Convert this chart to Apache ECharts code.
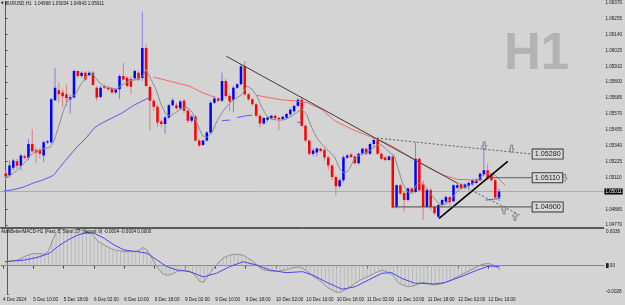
<!DOCTYPE html>
<html><head><meta charset="utf-8">
<script src="https://cdn.jsdelivr.net/npm/echarts@6/dist/echarts.min.js"></script>
<style>html,body{margin:0;padding:0;background:#d4d4d4}#c{width:625px;height:305px}</style>
</head><body><div id="c"></div><script>
// ---------- DATA ----------
const sessionDays = [['5 Dec',2,23],['6 Dec',0,23],['9 Dec',0,23],['10 Dec',0,23],['11 Dec',0,23],['12 Dec',0,23],['13 Dec',0,16]];
const timeTicks = ['5 Dec 10:00','5 Dec 18:00','6 Dec 02:00','6 Dec 10:00','6 Dec 18:00','9 Dec 02:00','9 Dec 10:00','9 Dec 18:00','10 Dec 02:00','10 Dec 10:00','10 Dec 18:00','11 Dec 02:00','11 Dec 10:00','11 Dec 18:00','12 Dec 02:00','12 Dec 10:00'];
const firstDateLabel = '4 Dec 2024';
const priceTicks = [1.04770,1.04880,1.05110,1.05225,1.05340,1.05455,1.05570,1.05685,1.05800,1.05910,1.06025,1.06140,1.06255,1.06370];
const macdTicks = [-0.0028, 0, 0.0036];
const macdTickLabels = ['-0.0028', '0.00', '0.0036'];

const opens = [1.05143,1.05127,1.05182,1.05229,1.05196,1.05265,1.05253,1.05353,1.05310,1.05305,1.05270,1.05363,1.05365,1.05668,1.05739,1.05722,1.05710,1.05672,1.05686,1.05877,1.05841,1.05865,1.05848,1.05865,1.05757,1.05691,1.05770,1.05757,1.05753,1.05722,1.05746,1.05841,1.05829,1.05820,1.05825,1.05865,1.05827,1.06043,1.05762,1.05663,1.05620,1.05515,1.05496,1.05543,1.05632,1.05632,1.05610,1.05663,1.05591,1.05520,1.05550,1.05377,1.05345,1.05377,1.05436,1.05650,1.05680,1.05663,1.05805,1.05698,1.05670,1.05757,1.05782,1.05912,1.05710,1.05675,1.05639,1.05555,1.05500,1.05527,1.05538,1.05555,1.05541,1.05530,1.05541,1.05566,1.05588,1.05627,1.05670,1.05484,1.05377,1.05281,1.05291,1.05318,1.05309,1.05256,1.05198,1.05115,1.05049,1.05091,1.05253,1.05277,1.05263,1.05215,1.05281,1.05318,1.05282,1.05352,1.05380,1.05282,1.05256,1.05238,1.05263,1.04901,1.05056,1.05001,1.04949,1.05032,1.05008,1.05246,1.05063,1.04901,1.05020,1.04899,1.04829,1.04913,1.04938,1.04970,1.04941,1.05038,1.05063,1.05036,1.05049,1.05063,1.05072,1.05091,1.05134,1.05163,1.05127,1.05091,1.04968];
const highs = [1.05163,1.05234,1.05246,1.05246,1.05282,1.05277,1.05389,1.05460,1.05325,1.05318,1.05377,1.05382,1.05682,1.05900,1.05793,1.05746,1.05782,1.05710,1.05889,1.05884,1.05877,1.05877,1.05877,1.05877,1.05770,1.05770,1.05782,1.05770,1.05762,1.05757,1.05853,1.05936,1.05841,1.05841,1.05889,1.05877,1.06305,1.06067,1.05777,1.05677,1.05634,1.05527,1.05555,1.05641,1.05684,1.05648,1.05670,1.05677,1.05605,1.05563,1.05563,1.05391,1.05384,1.05448,1.05663,1.05698,1.05691,1.05865,1.05820,1.05712,1.05770,1.05791,1.05927,1.05948,1.05720,1.05684,1.05648,1.05566,1.05548,1.05552,1.05563,1.05563,1.05548,1.05555,1.05577,1.05613,1.05630,1.05684,1.05684,1.05491,1.05384,1.05323,1.05327,1.05327,1.05323,1.05266,1.05206,1.05127,1.05106,1.05270,1.05281,1.05288,1.05273,1.05291,1.05327,1.05327,1.05363,1.05395,1.05391,1.05291,1.05266,1.05273,1.05273,1.05063,1.05066,1.05013,1.05041,1.05041,1.05365,1.05256,1.05091,1.05034,1.05034,1.04909,1.04920,1.04959,1.04984,1.04981,1.05063,1.05066,1.05074,1.05070,1.05084,1.05102,1.05106,1.05148,1.05356,1.05211,1.05141,1.05102,1.05034];
const lows = [1.05096,1.05111,1.05163,1.05175,1.05163,1.05241,1.05234,1.05293,1.05215,1.05246,1.05222,1.05353,1.05353,1.05663,1.05650,1.05615,1.05627,1.05572,1.05682,1.05829,1.05829,1.05805,1.05841,1.05770,1.05663,1.05682,1.05746,1.05734,1.05710,1.05710,1.05675,1.05810,1.05757,1.05710,1.05810,1.05805,1.05805,1.05762,1.05448,1.05591,1.05477,1.05472,1.05425,1.05534,1.05620,1.05598,1.05598,1.05577,1.05505,1.05505,1.05370,1.05329,1.05338,1.05370,1.05427,1.05639,1.05652,1.05655,1.05684,1.05591,1.05579,1.05748,1.05773,1.05698,1.05663,1.05627,1.05545,1.05472,1.05491,1.05513,1.05527,1.05527,1.05453,1.05520,1.05530,1.05555,1.05577,1.05616,1.05477,1.05366,1.05270,1.05266,1.05263,1.05291,1.05234,1.05163,1.05091,1.04984,1.05034,1.05077,1.05245,1.05248,1.05206,1.05206,1.05270,1.05270,1.05273,1.05327,1.05273,1.05238,1.05227,1.05231,1.04891,1.04888,1.04984,1.04865,1.04938,1.04999,1.04999,1.05009,1.04806,1.04891,1.04877,1.04841,1.04816,1.04902,1.04920,1.04913,1.04934,1.05027,1.05023,1.05027,1.05038,1.05052,1.05063,1.05084,1.05123,1.05095,1.05084,1.04961,1.04943];
const closes = [1.05120,1.05198,1.05234,1.05196,1.05270,1.05253,1.05353,1.05300,1.05291,1.05282,1.05365,1.05372,1.05675,1.05757,1.05710,1.05696,1.05682,1.05691,1.05877,1.05841,1.05865,1.05817,1.05865,1.05777,1.05686,1.05757,1.05757,1.05746,1.05722,1.05746,1.05841,1.05817,1.05770,1.05765,1.05877,1.05817,1.06043,1.05770,1.05663,1.05620,1.05508,1.05496,1.05543,1.05632,1.05668,1.05610,1.05658,1.05591,1.05520,1.05550,1.05377,1.05341,1.05377,1.05436,1.05650,1.05680,1.05663,1.05805,1.05698,1.05659,1.05757,1.05782,1.05912,1.05710,1.05675,1.05639,1.05555,1.05500,1.05539,1.05543,1.05555,1.05538,1.05530,1.05548,1.05568,1.05598,1.05627,1.05670,1.05484,1.05377,1.05282,1.05305,1.05320,1.05302,1.05256,1.05198,1.05115,1.05049,1.05091,1.05258,1.05270,1.05259,1.05215,1.05282,1.05318,1.05282,1.05353,1.05382,1.05282,1.05246,1.05238,1.05263,1.04896,1.05056,1.04996,1.04949,1.05032,1.05008,1.05246,1.05020,1.04901,1.05020,1.04899,1.04854,1.04913,1.04949,1.04972,1.04934,1.05056,1.05056,1.05032,1.05061,1.05072,1.05091,1.05095,1.05139,1.05163,1.05103,1.05091,1.04968,1.05011];
const bidPrice = 1.05011;

// moving averages: [bar position, price]
const grayMA = [[-0.5,1.05115],[1.25,1.05127],[3.0,1.05163],[4.7,1.05211],[6.5,1.05270],[8.2,1.05306],[10.0,1.05318],[11.7,1.05329],[12.6,1.05365],[13.9,1.05472],[15.2,1.05591],[16.5,1.05675],[17.4,1.05686],[18.3,1.05710],[19.6,1.05770],[21.3,1.05841],[23.0,1.05853],[24.3,1.05805],[25.7,1.05770],[27.4,1.05757],[29.1,1.05746],[30.9,1.05782],[32.6,1.05805],[34.4,1.05817],[36.1,1.05841],[37.0,1.05889],[38.3,1.05817],[39.6,1.05746],[40.9,1.05639],[42.2,1.05567],[43.5,1.05555],[44.8,1.05579],[46.6,1.05610],[47.9,1.05615],[49.2,1.05579],[50.5,1.05496],[51.8,1.05413],[53.1,1.05400],[54.4,1.05436],[55.7,1.05520],[57.0,1.05579],[58.4,1.05627],[59.7,1.05663],[61.0,1.05686],[62.3,1.05710],[63.6,1.05770],[64.9,1.05746],[66.2,1.05698],[67.5,1.05615],[68.8,1.05555],[70.1,1.05532],[71.4,1.05525],[72.7,1.05525],[74.0,1.05532],[75.4,1.05555],[76.7,1.05579],[78.0,1.05603],[79.3,1.05567],[80.6,1.05472],[81.9,1.05400],[83.2,1.05353],[85.0,1.05306],[86.7,1.05258],[88.0,1.05175],[89.3,1.05139],[90.6,1.05175],[91.9,1.05246],[93.7,1.05282],[95.4,1.05293],[97.1,1.05329],[98.5,1.05353],[99.8,1.05329],[101.1,1.05293],[102.4,1.05270],[103.3,1.05186],[104.6,1.05068],[105.9,1.05008],[107.2,1.04996],[108.1,1.05056],[109.4,1.05079],[110.7,1.05043],[112.0,1.04996],[113.3,1.04949],[114.6,1.04913],[115.9,1.04920],[117.2,1.04949],[118.5,1.04996],[119.8,1.05032],[121.1,1.05043],[122.4,1.05056],[123.7,1.05079],[125.1,1.05115],[126.4,1.05139],[127.7,1.05139],[129.0,1.05127],[130.3,1.05091],[131.6,1.05056]];
const redMA_a = [[38.9,1.05834],[41.4,1.05817],[44.8,1.05793],[48.3,1.05770],[51.8,1.05722],[55.3,1.05686]];
const redMA_b = [[66.2,1.05703],[69.3,1.05686],[72.7,1.05670],[76.2,1.05663],[79.7,1.05648],[83.2,1.05602],[86.7,1.05520],[91.1,1.05460],[95.4,1.05413],[98.9,1.05377],[102.4,1.05329],[106.7,1.05258],[111.1,1.05186],[115.5,1.05127],[119.0,1.05098],[121.6,1.05096],[124.2,1.05091],[125.6,1.05096]];
const blueMA_a = [[-0.5,1.05013],[2.1,1.05025],[4.7,1.05043],[7.3,1.05072],[10.0,1.05096],[12.6,1.05127],[14.3,1.05186],[16.5,1.05258],[18.7,1.05329],[21.3,1.05400],[23.5,1.05472],[25.7,1.05508],[28.3,1.05543],[30.9,1.05579],[33.5,1.05627],[36.1,1.05663],[37.9,1.05686]];
const blueMA_b = [[57.0,1.05520],[59.2,1.05525]];
const blueMA_c = [[61.0,1.05543],[62.8,1.05553],[64.9,1.05560]];
const blueMA_d = [[76.9,1.05508],[78.0,1.05510]];
const blueMA_e = [[126.4,1.04949],[130.3,1.04961]];

// drawn objects
const downTrend = [[58.1,1.05984],[118.96,1.05072]];
const downTrendRay = [[118.96,1.05072],[135.5,1.04841]];
const upTrend = [[114.2,1.04818],[132.3,1.05227]];
const level1 = [[96.8,1.05398],[138.6,1.05280]];
const level2 = [[127.1,1.05110],[138.6,1.05110]];
const level3 = [[102.3,1.04900],[138.6,1.04900]];
const downArrows = [[126.1,1.05341],[133.3,1.05318],[147.3,1.05109]];
const upArrows = [[131.3,1.04877],[134.2,1.04832]];

// MACD
const macdMain = [0.00040,0.00045,0.00050,0.00055,0.00075,0.00095,0.00107,0.00118,0.00119,0.00116,0.00114,0.00144,0.00242,0.00326,0.00355,0.00361,0.00367,0.00364,0.00361,0.00354,0.00344,0.00333,0.00323,0.00287,0.00240,0.00218,0.00196,0.00177,0.00159,0.00149,0.00143,0.00137,0.00137,0.00137,0.00137,0.00154,0.00178,0.00151,0.00099,0.00023,-0.00031,-0.00077,-0.00093,-0.00093,-0.00076,-0.00058,-0.00051,-0.00043,-0.00059,-0.00073,-0.00112,-0.00160,-0.00162,-0.00105,-0.00056,-0.00007,0.00035,0.00074,0.00090,0.00104,0.00113,0.00109,0.00105,0.00088,0.00065,0.00040,0.00006,-0.00028,-0.00046,-0.00050,-0.00055,-0.00060,-0.00053,-0.00047,-0.00038,-0.00028,-0.00018,-0.00015,-0.00028,-0.00049,-0.00080,-0.00112,-0.00132,-0.00162,-0.00198,-0.00226,-0.00244,-0.00263,-0.00263,-0.00244,-0.00223,-0.00196,-0.00171,-0.00148,-0.00128,-0.00112,-0.00095,-0.00076,-0.00059,-0.00045,-0.00058,-0.00070,-0.00105,-0.00158,-0.00186,-0.00198,-0.00207,-0.00201,-0.00192,-0.00171,-0.00166,-0.00176,-0.00187,-0.00190,-0.00183,-0.00176,-0.00163,-0.00147,-0.00126,-0.00107,-0.00088,-0.00069,-0.00050,-0.00032,-0.00013,0.00006,0.00016,0.00021,0.00011,-0.00009,-0.00038];
const macdSignal = [[-0.5,0.00038],[4.7,0.00055],[8.2,0.00082],[11.3,0.00121],[13.4,0.00186],[16.1,0.00252],[18.7,0.00301],[21.3,0.00324],[23.0,0.00318],[25.7,0.00269],[28.3,0.00203],[30.9,0.00154],[34.4,0.00137],[37.0,0.00121],[39.6,0.00055],[42.2,-0.00011],[44.8,-0.00043],[48.3,-0.00060],[51.8,-0.00112],[55.3,-0.00076],[58.8,-0.00011],[62.3,0.00038],[65.8,0.00006],[69.3,-0.00043],[73.6,-0.00070],[78.0,-0.00060],[80.6,-0.00093],[84.1,-0.00159],[88.4,-0.00233],[91.9,-0.00208],[95.4,-0.00142],[98.9,-0.00076],[101.5,-0.00070],[104.1,-0.00125],[107.6,-0.00174],[109.4,-0.00176],[112.8,-0.00181],[115.5,-0.00168],[119.8,-0.00109],[124.2,-0.00043],[127.2,-0.00004],[129.8,-0.00011]];

// ---------- BUILD ----------
const categories = [];
sessionDays.forEach(([d, a, b]) => { for (let h = a; h <= b; h++) categories.push(d + ' ' + String(h).padStart(2, '0') + ':00'); });
const tickSet = new Set(timeTicks);
const firstPos = -1.5, lastPos = categories.length - 1.5;

const FONT = 'Liberation Sans, Arial, sans-serif';
const BG = '#d4d4d4';
const AXIS = '#5a5a5a';
const TXT = '#161616';
const bodyUp = '#0000ff', bodyDn = '#ff0000', wickUp = '#8080d8', wickDn = '#d88080';

const candleData = opens.map((o, i) => [i, o, highs[i], lows[i], closes[i]]);

function renderCandle(params, api) {
  const i = api.value(0), o = api.value(1), h = api.value(2), l = api.value(3), c = api.value(4);
  const top = api.coord([i, Math.max(o, c)]);
  const bot = api.coord([i, Math.min(o, c)]);
  const hi = api.coord([i, h]), lo = api.coord([i, l]);
  const w = api.size([1, 0])[0] * 0.66;
  const up = c >= o;
  const x = top[0];
  return { type: 'group', children: [
    { type: 'line', shape: { x1: x, y1: hi[1], x2: x, y2: lo[1] }, style: { stroke: up ? wickUp : wickDn, lineWidth: 1 } },
    { type: 'rect', shape: { x: x - w / 2, y: top[1], width: w, height: Math.max(0.9, bot[1] - top[1]) }, style: { fill: up ? bodyUp : bodyDn } }
  ]};
}

function lineSeries(data, color, width, type, extra) {
  return Object.assign({ type: 'line', xAxisIndex: 1, yAxisIndex: 0, data: data, showSymbol: false, symbol: 'none', silent: true, animation: false,
    lineStyle: { color: color, width: width, type: type || 'solid' } }, extra || {});
}
const boxLabel = { show: true, formatter: p => p.value[1].toFixed(5), distance: 1, fontSize: 7.2, fontFamily: FONT, color: TXT,
  backgroundColor: '#d9d9d9', borderColor: '#3a3a3a', borderWidth: 1, padding: [1, 2, 0, 2], lineHeight: 8 };

const downPath = 'path://M3,0L7,0L7,6L10,6L5,11L0,6L3,6Z';
const upPath = 'path://M5,0L10,5L7,5L7,11L3,11L3,5L0,5Z';

const catAxisLabelInterval = (index, value) => index === 0 || tickSet.has(value);

const option = {
  backgroundColor: BG,
  animation: false,
  textStyle: { fontFamily: FONT },
  title: [
    { text: '{t|▼} EURUSD,H1  1.04968 1.05034 1.04943 1.05011', left: 1, top: 1, padding: 0,
      textStyle: { fontSize: 4.6, fontWeight: 'normal', color: TXT, fontFamily: FONT, rich: { t: { fontSize: 3.6, fontFamily: 'DejaVu Sans', color: TXT } } } },
    { text: 'AtasBetterMACD-H1 (Fast: 5, Slow: 27, Signal: 9) -0.0004 -0.0004 0.0000', left: 1, top: 228.8, padding: 0,
      textStyle: { fontSize: 4.6, fontWeight: 'normal', color: TXT, fontFamily: FONT } },
    { text: 'H1', left: 504, top: 29, padding: 0, z: 0,
      textStyle: { fontSize: 51, fontWeight: 'bold', color: '#b3b3b3', fontFamily: FONT } }
  ],
  grid: [
    { left: -3.82, right: 21, top: 0, height: 227 },
    { left: -3.82, right: 21, top: 228, height: 66 }
  ],
  xAxis: [
    { type: 'category', gridIndex: 0, data: categories, boundaryGap: true, position: 'bottom',
      axisLine: { lineStyle: { color: AXIS, width: 1 } }, axisTick: { show: false }, axisLabel: { show: false }, splitLine: { show: false } },
    { type: 'value', gridIndex: 0, min: firstPos, max: lastPos, show: false },
    { type: 'category', gridIndex: 1, data: categories, boundaryGap: true, position: 'bottom',
      axisLine: { lineStyle: { color: AXIS, width: 1 } },
      axisTick: { show: true, alignWithLabel: true, interval: catAxisLabelInterval, length: 3, lineStyle: { color: '#404040' } },
      axisLabel: { interval: catAxisLabelInterval, align: 'left', fontSize: 4.6, color: TXT, margin: 3, fontFamily: FONT,
        formatter: (v, i) => i === 0 ? firstDateLabel : (tickSet.has(v) ? v : '') },
      splitLine: { show: false } },
    { type: 'value', gridIndex: 1, min: firstPos, max: lastPos, show: false },
    { type: 'category', gridIndex: 1, data: categories, position: 'top',
      axisLine: { lineStyle: { color: AXIS, width: 1 } }, axisTick: { show: false }, axisLabel: { show: false } }
  ],
  yAxis: [
    { type: 'value', gridIndex: 0, position: 'right', min: 1.047557, max: 1.063765, scale: true,
      axisLine: { show: true, lineStyle: { color: AXIS } },
      axisTick: { show: true, customValues: priceTicks, length: 2, lineStyle: { color: AXIS } },
      axisLabel: { customValues: priceTicks, formatter: v => v.toFixed(5), fontSize: 4.6, color: TXT, margin: 2, fontFamily: FONT },
      splitLine: { show: false } },
    { type: 'value', gridIndex: 1, position: 'right', min: -0.0028, max: 0.0037,
      axisLine: { show: true, lineStyle: { color: AXIS } },
      axisTick: { show: true, customValues: macdTicks, length: 2, lineStyle: { color: AXIS } },
      axisLabel: { customValues: macdTicks, fontSize: 4.6, color: TXT, margin: 2, fontFamily: FONT,
        verticalAlignMaxLabel: 'top', verticalAlignMinLabel: 'bottom',
        formatter: v => { const k = macdTicks.findIndex(t => Math.abs(t - v) < 1e-9); const s = k >= 0 ? macdTickLabels[k] : ''; return s === '0.00' ? '{b|0}.00' : s; },
        rich: { b: { backgroundColor: '#202020', color: '#202020', fontSize: 4.6 } } },
      splitLine: { show: false } }
  ],
  series: [
    // bid line with current price box
    lineSeries([[firstPos, bidPrice], [lastPos, bidPrice]], '#ababab', 1, 'solid', { z: 1,
      endLabel: { show: true, formatter: p => p.value[1].toFixed(5), distance: 1, fontSize: 4.6, fontFamily: FONT, color: '#ffffff',
        backgroundColor: '#000000', padding: [0.5, 1, 0, 1], lineHeight: 5.5 } }),
    { type: 'custom', name: 'EURUSD', xAxisIndex: 1, yAxisIndex: 0, data: candleData, renderItem: renderCandle, clip: true, z: 2,
      encode: { x: 0, y: [1, 2, 3, 4] }, silent: true, animation: false },
    lineSeries(grayMA, '#8e8e8e', 1, 'solid', { z: 3 }),
    lineSeries(redMA_a, '#f26a6a', 1, 'solid', { z: 3 }),
    lineSeries(redMA_b, '#f26a6a', 1, 'solid', { z: 3 }),
    lineSeries(blueMA_a, '#5a5af0', 1, 'solid', { z: 3 }),
    lineSeries(blueMA_b, '#5a5af0', 1, 'solid', { z: 3 }),
    lineSeries(blueMA_c, '#5a5af0', 1, 'solid', { z: 3 }),
    lineSeries(blueMA_d, '#5a5af0', 1, 'solid', { z: 3 }),
    lineSeries(blueMA_e, '#5a5af0', 1, 'solid', { z: 3 }),
    lineSeries(downTrend, '#3c3c3c', 1, 'solid', { z: 4 }),
    lineSeries(downTrendRay, '#5c5c5c', 1, [2, 2], { z: 4 }),
    lineSeries(upTrend, '#000000', 1.6, 'solid', { z: 4 }),
    lineSeries(level1, '#5c5c5c', 1, [2, 2], { z: 4, endLabel: boxLabel }),
    lineSeries(level2, '#5c5c5c', 1, 'solid', { z: 4, endLabel: boxLabel }),
    lineSeries(level3, '#4a4a4a', 1, 'solid', { z: 4, endLabel: boxLabel }),
    { type: 'scatter', xAxisIndex: 1, yAxisIndex: 0, data: downArrows, symbol: downPath, symbolSize: [5, 7.5], z: 5, silent: true,
      itemStyle: { color: BG, borderColor: '#5a5a5a', borderWidth: 0.8 } },
    { type: 'scatter', xAxisIndex: 1, yAxisIndex: 0, data: upArrows, symbol: upPath, symbolSize: [5, 7.5], z: 5, silent: true,
      itemStyle: { color: BG, borderColor: '#5a5a5a', borderWidth: 0.8 } },
    // MACD pane
    { type: 'line', xAxisIndex: 3, yAxisIndex: 1, data: [[firstPos, 0], [lastPos, 0]], showSymbol: false, symbol: 'none', silent: true,
      lineStyle: { color: '#8c8c8c', width: 1 }, z: 1 },
    { type: 'bar', xAxisIndex: 3, yAxisIndex: 1, data: macdMain.map((v, i) => [i, v]), barWidth: 0.8, silent: true,
      itemStyle: { color: '#b8b8b8' }, z: 2 },
    { type: 'line', xAxisIndex: 3, yAxisIndex: 1, data: macdMain.map((v, i) => [i, v]), showSymbol: false, symbol: 'none', silent: true,
      lineStyle: { color: '#929292', width: 1 }, z: 3 },
    { type: 'line', xAxisIndex: 3, yAxisIndex: 1, data: macdSignal, showSymbol: false, symbol: 'none', silent: true,
      lineStyle: { color: '#4646f0', width: 1 }, z: 4 }
  ]
};
const chart = echarts.init(document.getElementById('c'), null, { renderer: 'canvas' });
chart.setOption(option);
</script></body></html>
